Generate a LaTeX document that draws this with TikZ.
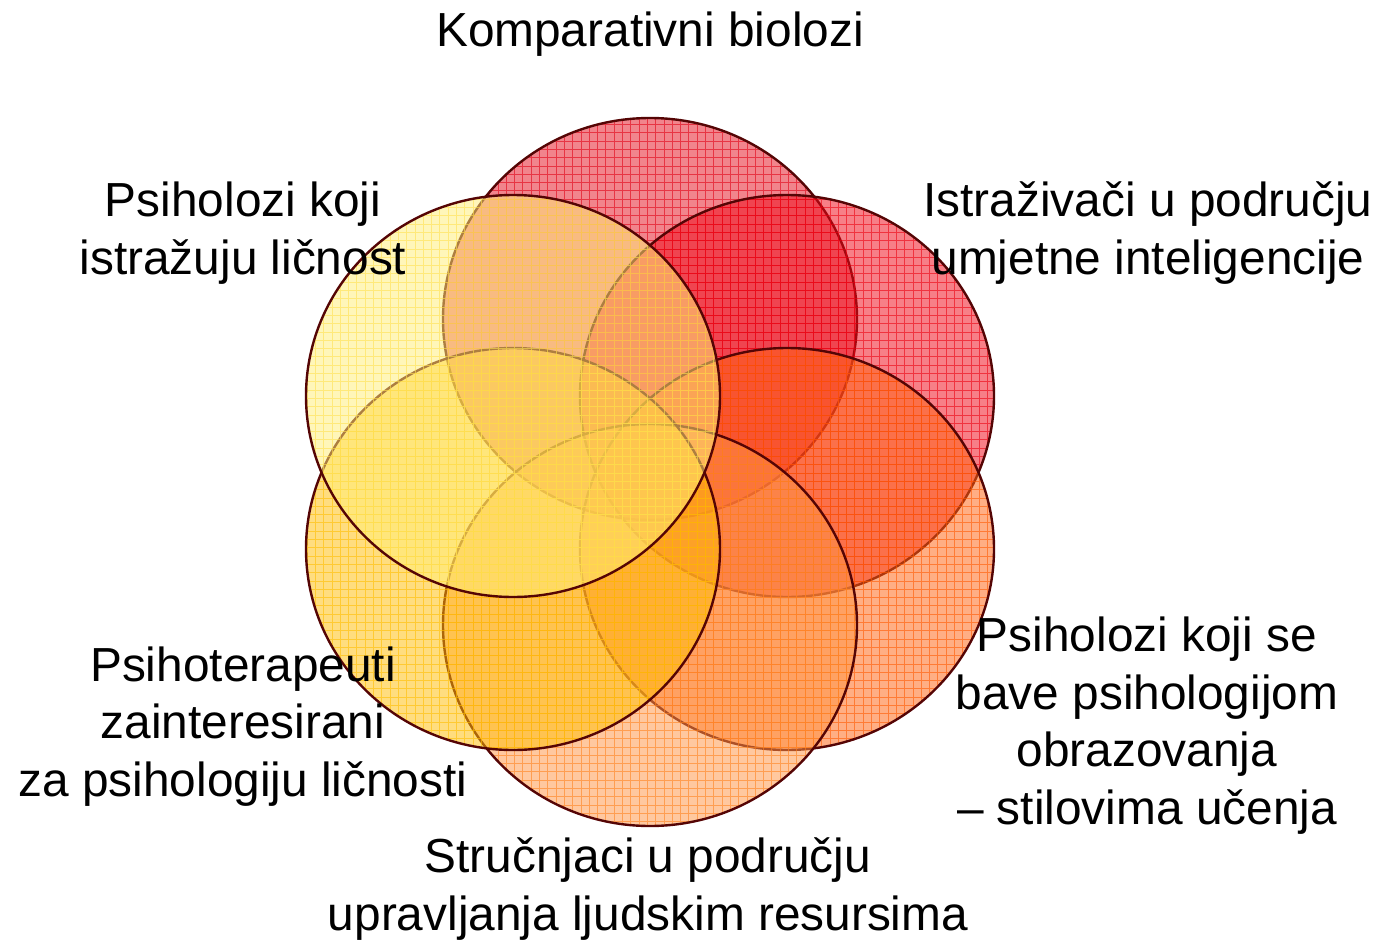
\documentclass[tikz,border=0pt]{standalone}
\usepackage{fontspec}
\setmainfont{Liberation Sans}
\definecolor{ringline}{RGB}{85,5,5}
\definecolor{cA}{RGB}{228,20,35}
\definecolor{gA}{RGB}{225,0,20}
\definecolor{cB}{RGB}{240,10,25}
\definecolor{gB}{RGB}{235,0,15}
\definecolor{cC}{RGB}{255,100,20}
\definecolor{gC}{RGB}{255,90,0}
\definecolor{cD}{RGB}{255,150,70}
\definecolor{gD}{RGB}{255,130,30}
\definecolor{cE}{RGB}{255,190,10}
\definecolor{gE}{RGB}{255,190,0}
\definecolor{cF}{RGB}{255,238,120}
\definecolor{gF}{RGB}{255,225,80}
\newcommand\drawpetal[3]{%
  \begin{scope}
    \path[fill=c#3,fill opacity=0.52] (#1,#2) ellipse [x radius=207pt,y radius=201pt];
    \clip (#1,#2) ellipse [x radius=207pt,y radius=201pt];
    \draw[g#3,line width=1pt,opacity=0.6] (#1-212,#2-206) grid[step=8.3pt] (#1+212,#2+206);
  \end{scope}
  \draw[ring] (#1,#2) ellipse [x radius=207pt,y radius=201pt];
}
\begin{document}
\begin{tikzpicture}[x=1pt,y=-1pt,
  ring/.style={draw=ringline,line width=2.4pt},
  lbl/.style={font=\fontsize{47.8}{57.5}\selectfont,align=center,inner sep=0pt,anchor=base}]
\useasboundingbox (0,0) rectangle (1377,942);
\drawpetal{650}{319}{A}
\drawpetal{787}{396}{B}
\drawpetal{787}{549}{C}
\drawpetal{650}{625}{D}
\drawpetal{513}{549}{E}
\drawpetal{513}{396}{F}
\node[lbl] (komp) at (650,47) {Komparativni biolozi};
\node[lbl] (pl) at (243,274) {Psiholozi koji\\istražuju ličnost};
\node[lbl] (ai) at (1148,274) {Istraživači u području\\umjetne inteligencije};
\node[lbl] (obr) at (1147,824) {Psiholozi koji se\\bave psihologijom\\obrazovanja\\– stilovima učenja};
\node[lbl] (ter) at (243,796) {Psihoterapeuti\\zainteresirani\\za psihologiju ličnosti};
\node[lbl] (hr) at (648,930) {Stručnjaci u području\\upravljanja ljudskim resursima};
\end{tikzpicture}
\end{document}
